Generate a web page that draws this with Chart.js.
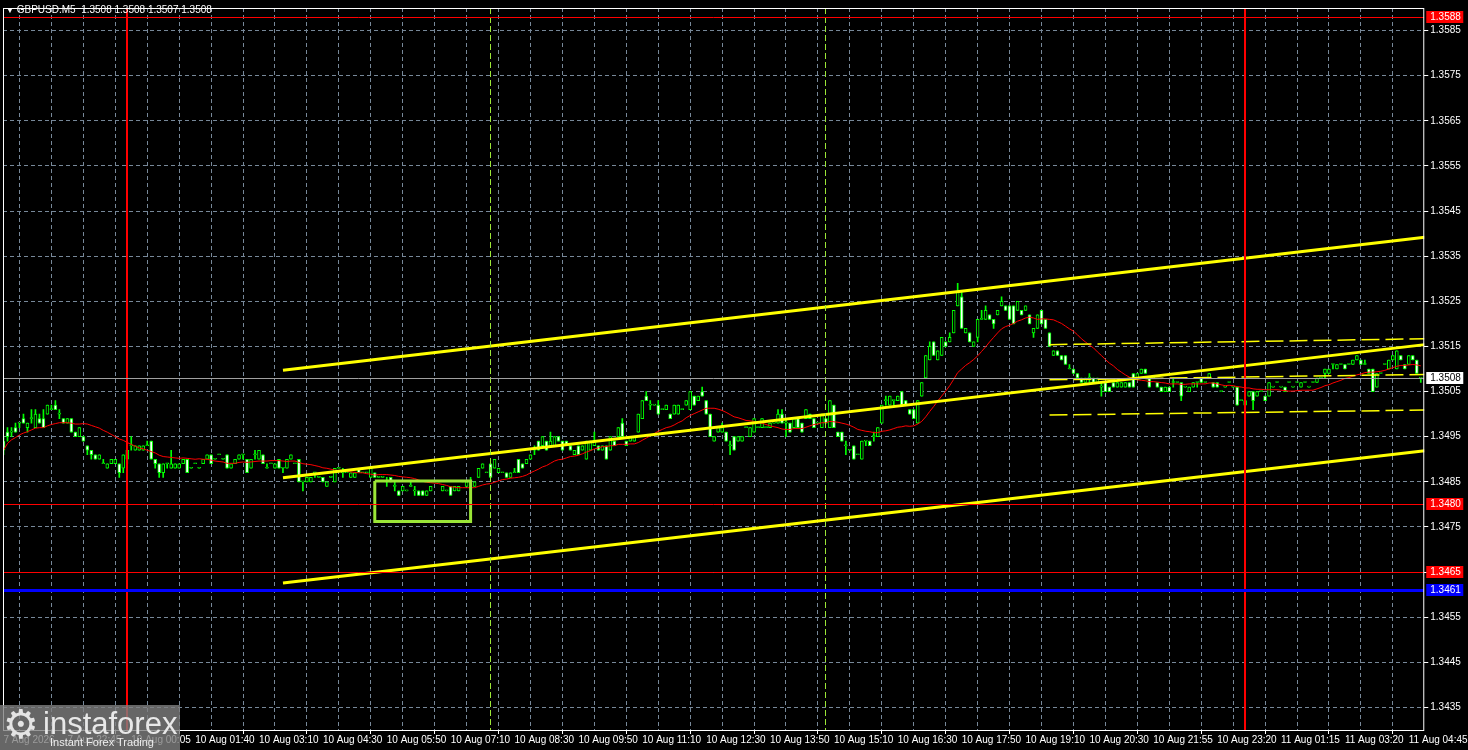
<!DOCTYPE html>
<html>
<head>
<meta charset="utf-8">
<script src="https://cdn.jsdelivr.net/npm/chart.js@4.4.1/dist/chart.umd.min.js"></script>
<style>
  html, body { margin: 0; padding: 0; background: #000; overflow: hidden; }
  #wrap { position: relative; width: 1468px; height: 750px; }
  #title { position: absolute; left: 6px; top: 4px; color: #fff; font: 10px "Liberation Sans", Arial, sans-serif; white-space: pre; }
  #title .tri { font-size: 8px; }
  #wm { position: absolute; left: 0; top: 705px; width: 180px; height: 45px; background: rgba(128,128,128,0.8); overflow: hidden; }
  #wm .gear { position: absolute; left: 3px; top: -4px; font: 40px "DejaVu Sans", sans-serif; color: #e4e4e4; }
  #wm .brand { position: absolute; left: 43px; top: 1px; font: 31px "Liberation Sans", Arial, sans-serif; color: #e8e8e8; }
  #wm .sub { position: absolute; left: 50px; top: 31px; font: 11px "Liberation Sans", Arial, sans-serif; color: #eee; }
</style>
</head>
<body>
<div id="wrap">
  <canvas id="chart" width="1468" height="750"></canvas>
  <div id="title"><span class="tri">▼</span> GBPUSD.M5  1.3508 1.3508 1.3507 1.3508</div>
  <div id="wm"><span class="gear">⚙</span><span class="brand">instaforex</span><span class="sub">Instant Forex Trading</span></div>
</div>
<script>
// prices are stored in pips above BASE
const BASE = 1.34;
const PIP = 0.0001;

const opens = [
  94,96,96,97,98,99,97,99,97,99, 99,100,101,102,100,99,98,99,96,95,
  95,93,92,91,90,89,88,89,89,89, 88,90,93,92,92,92,93,94,90,89,
  87,89,88,88,88,89,90,88,89,88, 89,90,91,90,91,90,91,88,89,90,
  91,90,88,91,90,91,88,89,88,90, 88,88,90,89,90,85,85,85,87,86,
  86,84,86,85,88,87,87,86,86,88, 87,87,86,87,86,86,85,86,84,83,
  83,83,84,83,83,83,82,83,85,85, 83,83,84,83,83,85,84,85,84,86,
  88,87,89,88,87,87,87,86,87,90, 89,89,90,92,94,93,94,93,93,95,
  94,94,93,91,93,92,90,92,93,93, 92,93,92,94,95,98,94,94,94,96,
  99,104,102,102,102,101,101,100,100,100, 101,102,101,104,103,105,103,100,94,96,
  96,96,93,95,94,94,97,95,96,97, 97,97,97,98,98,100,98,98,97,99,
  98,99,100,99,98,97,99,97,102,96, 96,93,92,93,91,90,94,94,95,95,
  98,103,102,103,103,105,103,101,101,98, 104,108,112,116,112,113,116,116,118,124,
  126,118,118,115,117,121,121,122,121,122, 124,124,124,124,123,123,123,122,118,119,
  123,121,118,113,114,113,113,110,110,109, 108,107,108,108,107,106,107,106,107,106,
  106,106,107,109,108,109,110,108,108,107, 106,105,106,107,107,107,106,105,106,107,
  108,107,108,107,107,105,106,107,106,106, 103,103,104,105,104,105,104,104,106,107,
  106,106,107,106,107,106,107,106,107,107, 108,109,109,111,110,111,111,111,111,112,
  112,111,110,110,106,109,111,110,112,110, 113,111,111,113,112,108
];
const highs = [
  95,97,97,98,98,100,98,101,101,100, 101,102,102,103,101,99,99,99,96,97,
  95,93,92,91,91,90,89,90,90,89, 91,92,95,93,93,93,94,94,90,89,
  89,89,92,89,89,90,90,88,89,88, 90,91,91,90,91,90,91,89,90,91,
  91,90,90,92,92,91,89,89,89,90, 88,90,91,89,90,85,86,86,87,86,
  86,85,86,88,88,88,87,87,87,88, 87,87,88,87,86,86,86,86,85,83,
  84,83,85,84,83,83,83,84,85,85, 84,83,84,84,84,85,85,86,85,88,
  89,87,89,90,88,87,87,87,88,90, 89,90,91,93,94,95,94,96,95,95,
  94,94,93,92,93,93,94,94,96,93, 93,93,95,94,97,99,94,95,95,100,
  103,105,103,102,103,101,102,100,102,102, 101,103,105,104,104,106,103,100,95,97,
  98,96,94,95,95,95,97,97,99,97, 99,97,98,98,101,101,99,98,99,99,
  98,101,100,99,98,100,99,103,102,96, 96,94,92,93,91,94,94,94,96,97,
  102,104,104,103,104,105,103,101,101,103, 107,113,116,116,114,117,116,118,123,129,
  127,119,118,116,121,123,124,122,121,123, 126,124,124,124,125,123,124,122,119,122,
  123,121,118,114,114,113,113,111,110,109, 108,108,109,108,108,107,107,106,107,107,
  107,107,107,109,109,110,110,108,108,107, 106,106,106,108,107,107,106,106,107,107,
  108,107,109,107,107,105,106,107,106,106, 103,103,105,105,105,105,104,107,106,107,
  106,106,107,106,107,107,107,106,107,108, 108,110,110,111,111,111,111,111,112,113,
  112,112,110,110,109,109,111,112,113,114, 113,111,113,113,112,108
];
const lows = [
  91,94,95,96,97,98,96,98,97,98, 97,100,101,101,99,98,98,96,95,95,
  94,91,90,90,90,89,88,89,89,86, 87,89,92,92,92,92,93,90,88,86,
  86,88,88,88,88,89,87,88,89,88, 89,90,89,90,91,90,88,88,89,90,
  90,87,88,90,90,89,88,89,88,88, 87,88,90,89,85,83,85,85,86,86,
  85,84,86,85,88,86,87,86,86,87, 87,87,86,86,86,86,84,85,83,82,
  83,83,84,82,82,82,82,83,85,85, 83,83,82,83,83,85,84,85,84,86,
  88,87,86,88,87,87,86,86,87,87, 88,89,90,91,92,93,92,93,93,94,
  92,93,92,91,91,92,90,92,93,92, 92,90,92,93,95,95,93,94,94,96,
  99,103,101,102,100,101,101,99,100,100, 101,102,101,102,103,104,100,95,94,96,
  96,94,91,92,94,94,97,95,96,97, 97,97,97,98,98,98,95,96,97,97,
  96,99,99,97,98,97,98,97,97,95, 94,91,92,90,91,90,93,93,94,95,
  98,102,102,102,103,102,102,100,99,98, 104,108,112,113,112,113,115,116,118,124,
  119,118,116,115,116,121,121,121,119,122, 124,123,121,120,123,122,123,120,117,119,
  120,119,115,113,113,112,111,110,109,108, 107,107,107,107,107,104,105,105,106,106,
  106,106,106,106,108,109,109,106,108,106, 105,105,105,106,107,103,106,105,106,106,
  107,107,108,106,106,105,106,107,106,102, 103,102,104,101,104,105,103,104,106,107,
  106,105,107,106,107,106,107,106,107,107, 108,108,109,110,110,111,110,111,111,112,
  111,111,109,105,106,109,111,110,112,110, 112,110,111,112,109,107
];
const closes = [
  92,95,96,96,98,98,98,99,100,98, 97,102,101,101,100,98,99,96,95,97,
  94,92,91,90,91,89,89,90,90,87, 91,92,93,93,93,93,93,90,89,87,
  89,89,89,89,89,90,87,88,89,88, 90,91,89,90,91,90,88,89,90,91,
  91,87,90,91,92,89,88,89,89,88, 88,90,91,89,85,85,86,86,87,86,
  85,85,86,88,88,87,87,87,87,87, 87,87,88,86,86,86,85,85,84,82,
  84,83,84,83,82,82,83,84,85,85, 84,83,82,84,84,85,85,85,85,88,
  89,87,86,90,88,87,86,87,87,87, 88,90,91,92,92,95,92,94,95,94,
  92,93,92,92,91,93,94,94,94,92, 93,90,95,93,97,95,93,95,95,100,
  103,103,102,102,100,101,102,99,102,102, 101,103,105,102,104,104,100,95,95,97,
  97,94,93,92,95,95,97,97,99,97, 99,97,98,98,100,98,98,96,99,97,
  96,101,99,97,98,100,98,103,97,95, 94,93,92,90,91,94,94,93,95,97,
  102,103,104,103,104,102,102,100,99,103, 107,113,115,113,114,117,115,117,123,127,
  119,119,116,116,121,121,123,121,120,123, 125,123,121,120,125,122,124,120,119,122,
  120,119,115,114,113,112,111,110,109,108, 107,108,108,107,108,106,105,105,106,107,
  107,107,106,106,109,110,109,106,108,106, 105,106,105,107,107,104,106,106,107,107,
  107,107,109,106,106,105,106,107,106,102, 103,102,105,103,105,105,103,107,106,107,
  106,105,107,106,107,107,107,106,107,108, 108,110,110,111,111,111,110,111,112,113,
  111,111,109,105,109,109,111,112,113,114, 112,110,113,112,109,108
];

// one label every 16 bars
const xTickLabels = [
  '7 Aug 2026', '7 Aug 22:45', '10 Aug 00:05', '10 Aug 01:40', '10 Aug 03:10', '10 Aug 04:30',
  '10 Aug 05:50', '10 Aug 07:10', '10 Aug 08:30', '10 Aug 09:50', '10 Aug 11:10', '10 Aug 12:30',
  '10 Aug 13:50', '10 Aug 15:10', '10 Aug 16:30', '10 Aug 17:50', '10 Aug 19:10', '10 Aug 20:30',
  '10 Aug 21:55', '10 Aug 23:20', '11 Aug 01:15', '11 Aug 03:20', '11 Aug 04:45'
];
const yTickValues = [1.3435, 1.3445, 1.3455, 1.3465, 1.3475, 1.3485, 1.3495, 1.3505,
  1.3515, 1.3525, 1.3535, 1.3545, 1.3555, 1.3565, 1.3575, 1.3585];

const redLevels = [1.3588, 1.3480, 1.3465];
const blueLevels = [1.3461];
const bidPrice = 1.3508;
const redVerticals = [31, 311];
const greenVerticals = [122, 206];

const channelBars = [70, 356];
const channelUpper = [1.35097, 1.35392];
const channelMiddle = [1.34859, 1.35154];
const channelLower = [1.34626, 1.34919];

const dashBars = [262, 356];
const dashUpper = [1.35154, 1.35167];
const dashMiddle = [1.35076, 1.35088];
const dashLower = [1.34998, 1.35009];

const boxBars = [93, 117];
const boxPrices = [1.34852, 1.34762];

const maPeriod = 20;

const GREEN = '#00ff00';
const toPrice = v => Math.round((BASE + v * PIP) * 1e5) / 1e5;

const bodyData = opens.map((o, i) => ({ x: i, y: [toPrice(Math.min(o, closes[i])), toPrice(Math.max(o, closes[i]))] }));
const wickData = opens.map((o, i) => ({ x: i, y: [toPrice(lows[i]), toPrice(highs[i])] }));
const bodyFill = opens.map((o, i) => closes[i] >= o ? '#000000' : '#ffffff');

const maData = closes.map((c, i) => {
  const win = closes.slice(Math.max(0, i - maPeriod + 1), i + 1);
  return { x: i, y: toPrice(win.reduce((a, b) => a + b, 0) / win.length) };
});

const seg = (bars, prices) => [{ x: bars[0], y: prices[0] }, { x: bars[1], y: prices[1] }];
const boxData = [
  { x: boxBars[0], y: boxPrices[0] }, { x: boxBars[1], y: boxPrices[0] },
  { x: boxBars[1], y: boxPrices[1] }, { x: boxBars[0], y: boxPrices[1] },
  { x: boxBars[0], y: boxPrices[0] }
];

function lineSet(data, color, width, dash, order) {
  return { type: 'line', data, borderColor: color, borderWidth: width, borderDash: dash || [],
    pointRadius: 0, tension: 0, fill: false, order };
}

const levelsPlugin = {
  id: 'levels',
  afterDatasetsDraw(chart) {
    const { ctx, chartArea: a, scales: { x, y } } = chart;
    ctx.save();
    ctx.beginPath();
    ctx.rect(a.left, a.top, a.right - a.left, a.bottom - a.top);
    ctx.clip();
    const hline = (p, color, w) => {
      const py = Math.round(y.getPixelForValue(p)) + (w % 2 ? 0.5 : 0);
      ctx.strokeStyle = color; ctx.lineWidth = w; ctx.setLineDash([]);
      ctx.beginPath(); ctx.moveTo(a.left, py); ctx.lineTo(a.right, py); ctx.stroke();
    };
    const vline = (b, color, w, dash) => {
      const px = Math.floor(x.getPixelForValue(b)) + (w % 2 ? 0.5 : 0);
      ctx.strokeStyle = color; ctx.lineWidth = w; ctx.setLineDash(dash);
      ctx.beginPath(); ctx.moveTo(px, a.top); ctx.lineTo(px, a.bottom); ctx.stroke();
    };
    greenVerticals.forEach(b => vline(b, '#9be637', 1, [6, 3]));
    redVerticals.forEach(b => vline(b, '#ff0000', 2, []));
    hline(bidPrice, '#a0a0a0', 1);
    redLevels.forEach(p => hline(p, '#ff0000', 1));
    blueLevels.forEach(p => hline(p, '#0000ff', 3));
    ctx.restore();
  },
  afterDraw(chart) {
    const { ctx, chartArea: a, scales: { y } } = chart;
    ctx.save();
    ctx.strokeStyle = '#ffffff'; ctx.lineWidth = 1; ctx.setLineDash([]);
    ctx.strokeRect(a.left + 0.5, a.top + 0.5, a.right - a.left - 1, a.bottom - a.top);
    const tag = (p, bg, fg) => {
      const py = Math.round(y.getPixelForValue(p));
      ctx.fillStyle = bg;
      ctx.fillRect(a.right + 2, py - 6, 37, 12);
      ctx.fillStyle = fg;
      ctx.font = '10px "Liberation Sans", Arial, sans-serif';
      ctx.textBaseline = 'middle';
      ctx.textAlign = 'left';
      ctx.fillText(p.toFixed(4), a.right + 6, py + 0.5);
    };
    redLevels.forEach(p => tag(p, '#ff0000', '#ffffff'));
    blueLevels.forEach(p => tag(p, '#0000ff', '#ffffff'));
    tag(bidPrice, '#ffffff', '#000000');
    ctx.restore();
  }
};

Chart.defaults.font.family = '"Liberation Sans", Arial, sans-serif';

new Chart(document.getElementById('chart'), {
  type: 'bar',
  data: {
    datasets: [
      { type: 'bar', data: wickData, backgroundColor: GREEN, borderWidth: 0, barThickness: 1,
        grouped: false, order: 10 },
      { type: 'bar', data: bodyData, backgroundColor: bodyFill, borderColor: GREEN, borderWidth: 1,
        borderSkipped: false, barThickness: 3, minBarLength: 1, grouped: false, order: 9 },
      lineSet(maData, '#ff0000', 1, null, 5),
      lineSet(seg(channelBars, channelUpper), '#ffff00', 3, null, 3),
      lineSet(seg(channelBars, channelMiddle), '#ffff00', 3, null, 3),
      lineSet(seg(channelBars, channelLower), '#ffff00', 3, null, 3),
      lineSet(seg(dashBars, dashUpper), '#ffff00', 1.5, [18, 6], 3),
      lineSet(seg(dashBars, dashMiddle), '#ffff00', 1.5, [18, 6], 3),
      lineSet(seg(dashBars, dashLower), '#ffff00', 1.5, [18, 6], 3),
      lineSet(boxData, '#9be637', 3, null, 2)
    ]
  },
  options: {
    responsive: false,
    animation: false,
    devicePixelRatio: 1,
    events: [],
    layout: { padding: { left: 3, top: 3, right: 0, bottom: 0 } },
    plugins: { legend: { display: false }, tooltip: { enabled: false } },
    scales: {
      x: {
        type: 'linear', min: -0.125, max: 355.875, offset: false,
        afterFit: s => { s.height = 20; },
        afterBuildTicks: s => { s.ticks = Array.from({ length: 45 }, (_, k) => ({ value: k * 8 })); },
        border: { display: false, dash: [4, 3] },
        grid: { color: '#778899', lineWidth: 1, tickLength: 4, tickBorderDash: [],
          tickColor: c => (c.tick && c.tick.value % 16 === 0) ? '#ffffff' : 'rgba(0,0,0,0)' },
        ticks: { color: '#ffffff', font: { size: 10 }, padding: 0, autoSkip: false, maxRotation: 0,
          minRotation: 0, align: 'start',
          callback: v => (v % 16 === 0 ? (xTickLabels[v / 16] || '') : '') }
      },
      y: {
        type: 'linear', position: 'right', min: 1.343, max: 1.359,
        afterFit: s => { s.width = 41; },
        afterBuildTicks: s => { s.ticks = yTickValues.map(v => ({ value: v })); },
        border: { display: false, dash: [4, 3] },
        grid: { color: '#778899', lineWidth: 1, tickLength: 4, tickBorderDash: [], tickColor: '#ffffff' },
        ticks: { color: '#ffffff', font: { size: 10 }, padding: 2, callback: v => v.toFixed(4) }
      }
    }
  },
  plugins: [levelsPlugin]
});
</script>
</body>
</html>
